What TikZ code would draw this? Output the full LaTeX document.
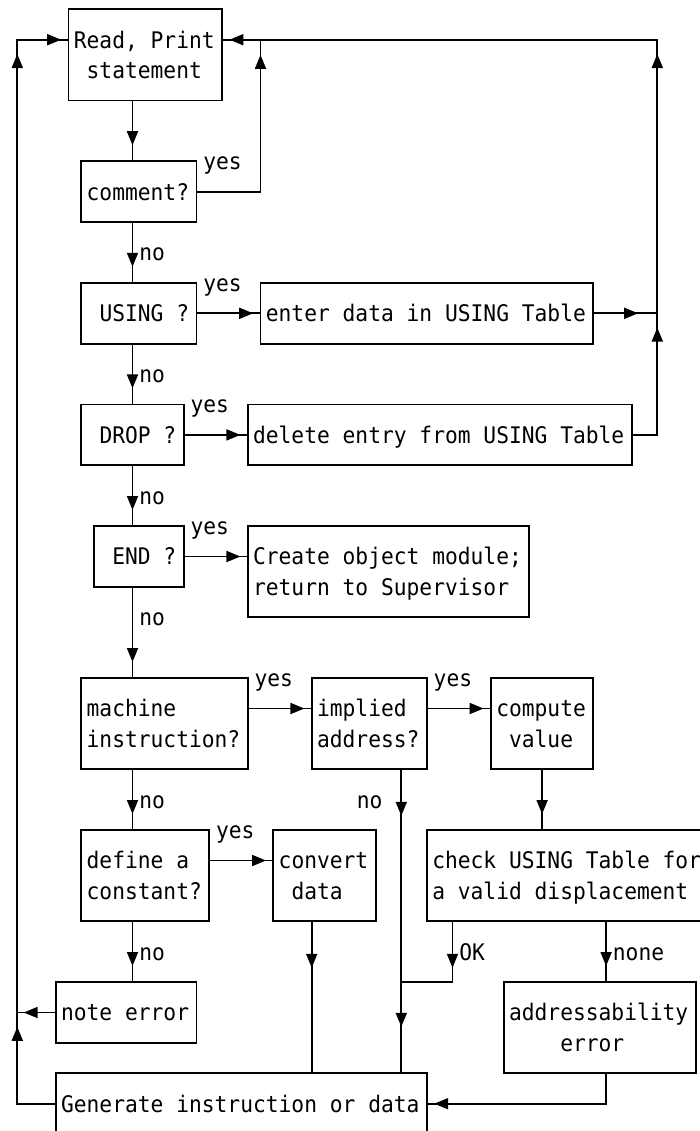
\documentclass[tikz,border=0pt]{standalone}
\usepackage{fontspec}
\newfontfamily\diagmono{DejaVu Sans Mono}[FakeStretch=0.93]
\usetikzlibrary{arrows.meta,decorations.markings,calc}
\newcommand\dfont{\diagmono\fontsize{11.43}{15.2}\selectfont}
\newcommand\vst{\spaceskip=6.4pt plus 0pt minus 0pt\relax\xspaceskip=6.4pt plus 0pt minus 0pt\relax\rule[-2.8pt]{0pt}{14pt}}
\newcommand\lpad[1]{\hspace*{#1}}
\newcommand\flowbox[6]{%
  \pgfmathsetmacro\fbw{(#4-#2)*6.4}%
  \pgfmathsetmacro\fbh{(#5-#3)*15.2}%
  \pgfmathsetmacro\fbt{(#4-#2-1)*6.4+1}%
  \node[box, minimum width=\fbw pt, minimum height=\fbh pt, text width=\fbt pt] (#1) at ({(#2+#4)/2},{(#3+#5)/2}) {#6};}
\begin{document}
\begin{tikzpicture}[x=6.4pt,y=-15.2pt,
  every node/.style={font=\dfont},
  lw/.style={line width=0.9pt},
  box/.style={draw, lw, inner xsep=2.7pt, inner ysep=0pt, align=left},
  lab/.style={inner sep=0pt, anchor=west, text height=11.2pt, text depth=2.8pt},
  conn/.style={lw},
  tipat/.style={postaction={decorate,decoration={markings,mark=at position #1 with {\arrow{Triangle[length=7pt,width=5.5pt]}}}}},
]
\useasboundingbox (-1.3516,-0.306) rectangle (53.336,36.898);
\clip (-1.3516,-0.306) rectangle (53.336,36.898);

% boxes
\flowbox{read}{4}{0}{16}{3}{\vst Read, Print\\\vst\lpad{6.4pt}statement}
\flowbox{comment}{5}{5}{14}{7}{\vst comment?}
\flowbox{using}{5}{9}{14}{11}{\vst\lpad{6.4pt}USING ?}
\flowbox{enter}{19}{9}{45}{11}{\vst enter data in USING Table}
\flowbox{drop}{5}{13}{13}{15}{\vst\lpad{6.4pt}DROP ?}
\flowbox{delete}{18}{13}{48}{15}{\vst delete entry from USING Table}
\flowbox{endb}{6}{17}{13}{19}{\vst\lpad{6.4pt}END ?}
\flowbox{create}{18}{17}{40}{20}{\vst Create object module;\\\vst return to Supervisor}
\flowbox{machine}{5}{22}{18}{25}{\vst machine\\\vst instruction?}
\flowbox{implied}{23}{22}{32}{25}{\vst implied\\\vst address?}
\flowbox{compute}{37}{22}{45}{25}{\vst compute\\\vst\lpad{6.4pt}value}
\flowbox{define}{5}{27}{15}{30}{\vst define a\\\vst constant?}
\flowbox{convert}{20}{27}{28}{30}{\vst convert\\\vst\lpad{6.4pt}data}
\flowbox{check}{32}{27}{54}{30}{\vst check USING Table for\\\vst a valid displacement}
\flowbox{note}{3}{32}{14}{34}{\vst note error}
\flowbox{addr}{38}{32}{53}{35}{\vst addressability\\\vst\lpad{25.6pt}error}
\flowbox{gen}{3}{35}{32}{37}{\vst Generate instruction or data}

% helper coordinates
\coordinate (spine) at (9,0);
\coordinate (lft) at (0,1);
\coordinate (rgt) at (50,1);
\coordinate (cmy) at (19,1);
\coordinate (implx) at (30,0);
\coordinate (convx) at (23,0);
\coordinate (cvalx) at (41,0);
\coordinate (okx) at (34,32);
\coordinate (nonex) at (46,36);
\coordinate (rowA) at (0,23);
\coordinate (rowB) at (0,28);
\coordinate (okjoin) at (30,32);

% connectors
\draw[conn, tipat=-7.6pt] (read.south -| spine) -- (comment.north -| spine);
\draw[conn, tipat=-7.6pt] (comment.east) -| (cmy);
\draw[conn, tipat=66pt, tipat=202.8pt, tipat=-3.2pt] (delete.east) -| (rgt) -- (read.east |- rgt);
\draw[conn, tipat=-9.6pt] (enter.east) -- (enter.east -| rgt);
\draw[conn, tipat=-7.6pt] (comment.south -| spine) -- (using.north -| spine);
\draw[conn, tipat=-3.2pt] (using.east) -- (enter.west);
\draw[conn, tipat=-7.6pt] (using.south -| spine) -- (drop.north -| spine);
\draw[conn, tipat=-3.2pt] (drop.east) -- (delete.west);
\draw[conn, tipat=-7.6pt] (drop.south -| spine) -- (endb.north -| spine);
\draw[conn, tipat=-3.2pt] (endb.east) -- (endb.east -| create.west);
\draw[conn, tipat=-7.6pt] (endb.south -| spine) -- (machine.north -| spine);
\draw[conn, tipat=-3.2pt] (machine.east |- rowA) -- (implied.west |- rowA);
\draw[conn, tipat=-3.2pt] (implied.east |- rowA) -- (compute.west |- rowA);
\draw[conn, tipat=-7.6pt] (compute.south -| cvalx) -- (check.north -| cvalx);
\draw[conn, tipat=22.8pt, tipat=-22.8pt] (implied.south -| implx) -- (gen.north -| implx);
\draw[conn, tipat=22.8pt] (check.south -| okx) |- (okjoin);
\draw[conn, tipat=-7.6pt] (check.south -| nonex) -- (addr.north -| nonex);
\draw[conn, tipat=-3.2pt] (addr.south -| nonex) |- (gen.east);
\draw[conn, tipat=-7.6pt] (machine.south -| spine) -- (define.north -| spine);
\draw[conn, tipat=-3.2pt] (define.east |- rowB) -- (convert.west |- rowB);
\draw[conn, tipat=22.8pt] (convert.south -| convx) -- (gen.north -| convx);
\draw[conn, tipat=-7.6pt] (define.south -| spine) -- (note.north -| spine);
\draw[conn, tipat=-3.2pt] (note.west) -- (note.west -| lft);
\draw[conn, tipat=57.2pt, tipat=543.6pt, tipat=-3.2pt] (gen.west) -| (lft) -- (read.west |- lft);

% labels
\node[lab] (y1) at (14.5,5) {yes};
\node[lab] (n1) at (9.5,8) {no};
\node[lab] (y2) at (14.5,9) {yes};
\node[lab] (n2) at (9.5,12) {no};
\node[lab] (y3) at (13.5,13) {yes};
\node[lab] (n3) at (9.5,16) {no};
\node[lab] (y4) at (13.5,17) {yes};
\node[lab] (n4) at (9.5,20) {no};
\node[lab] (y5) at (18.5,22) {yes};
\node[lab] (y6) at (32.5,22) {yes};
\node[lab] (n5) at (9.5,26) {no};
\node[lab] (n6) at (26.5,26) {no};
\node[lab] (y7) at (15.5,27) {yes};
\node[lab] (n7) at (9.5,31) {no};
\node[lab] (ok) at (34.5,31) {OK};
\node[lab] (none) at (46.5,31) {none};
\end{tikzpicture}
\end{document}
